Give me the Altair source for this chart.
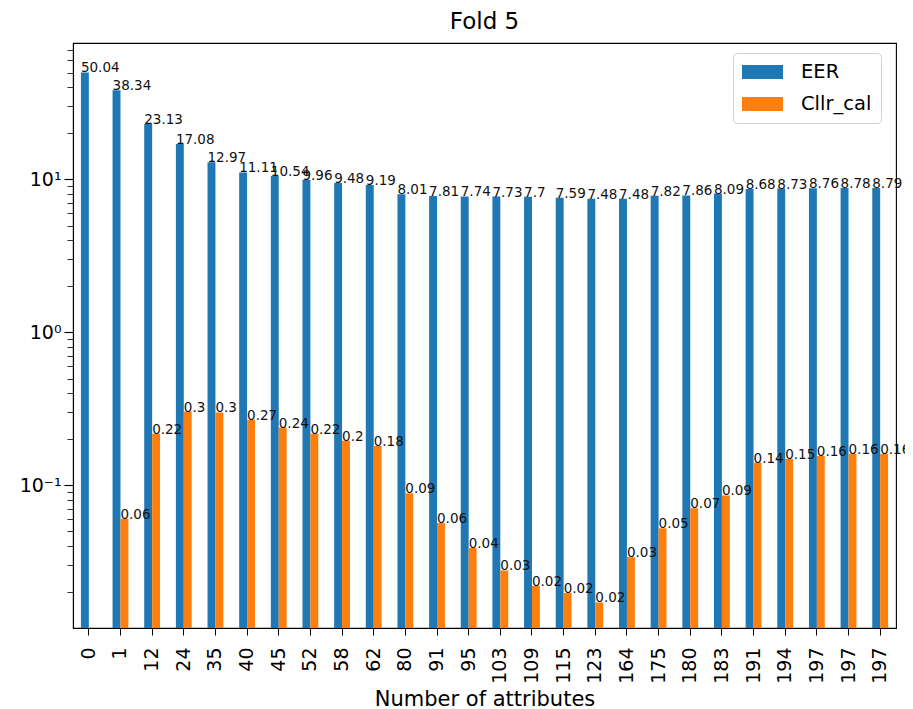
import json
import altair as alt
import pandas as pd

# ---- data ----
ATTRS = ["0", "1", "12", "24", "35", "40", "45", "52", "58", "62", "80", "91", "95",
         "103", "109", "115", "123", "164", "175", "180", "183", "191", "194", "197", "197", "197"]
EER = [50.04, 38.34, 23.13, 17.08, 12.97, 11.11, 10.54, 9.96, 9.48, 9.19, 8.01, 7.81, 7.74,
       7.73, 7.7, 7.59, 7.48, 7.48, 7.82, 7.86, 8.09, 8.68, 8.73, 8.76, 8.78, 8.79]
CLLR = [None, 0.0605, 0.218, 0.304, 0.300, 0.269, 0.239, 0.218, 0.196, 0.181, 0.089, 0.0568, 0.039,
        0.0278, 0.0221, 0.0198, 0.0172, 0.034, 0.0526, 0.071, 0.086, 0.141, 0.149, 0.156, 0.161, 0.161]
SERIES = ["EER", "Cllr_cal"]
COLORS = ["#1f77b4", "#ff7f0e"]
Y_DOMAIN = [0.0117, 78.0]
MAJOR_TICKS = [0.1, 1, 10]
MINOR_TICKS = [0.02, 0.03, 0.04, 0.05, 0.06, 0.07, 0.08, 0.09,
               0.2, 0.3, 0.4, 0.5, 0.6, 0.7, 0.8, 0.9,
               2, 3, 4, 5, 6, 7, 8, 9, 20, 30, 40, 50, 60, 70]

rows = []
for i, (a, e, c) in enumerate(zip(ATTRS, EER, CLLR)):
    rows.append({"idx": i, "series": "EER", "value": e, "label": f"{round(e, 2):g}"})
    if c is not None:
        rows.append({"idx": i, "series": "Cllr_cal", "value": c, "label": f"{round(c, 2):g}"})
df = pd.DataFrame(rows)

FONT = "DejaVu Sans"
x_label_expr = f"{json.dumps(ATTRS)}[datum.value]"
y_label_expr = ("datum.value == 10 ? '10\u00b9' : datum.value == 1 ? '10\u2070' : "
                "datum.value == 0.1 ? '10\u207b\u00b9' : ''")
major_test = "datum.value == 0.1 || datum.value == 1 || datum.value == 10"

x_enc = alt.X(
    "idx:O",
    scale=alt.Scale(paddingInner=0.5, paddingOuter=0.25),
    axis=alt.Axis(
        title="Number of attributes", labelExpr=x_label_expr, labelAngle=270,
        labelFontSize=19, labelPadding=12, tickSize=7, titleFontSize=21,
        titlePadding=5, labelOverlap=False, labelBound=False,
    ),
)
y_scale = alt.Scale(type="log", domain=Y_DOMAIN, nice=False)
y_enc = alt.Y(
    "value:Q", scale=y_scale,
    axis=alt.Axis(
        title=None, values=MAJOR_TICKS + MINOR_TICKS, labelExpr=y_label_expr,
        labelFontSize=19, labelPadding=3, grid=False,
        tickSize={"condition": {"test": major_test, "value": 9}, "value": 6},
        tickWidth={"condition": {"test": major_test, "value": 1.1}, "value": 0.8},
    ),
)

color_enc = alt.Color(
    "series:N",
    scale=alt.Scale(domain=SERIES, range=COLORS),
    legend=alt.Legend(
        title=None, orient="none", legendX=660, legendY=10,
        symbolType="M-2.05,-0.7H2.05V0.7H-2.05Z", symbolSize=400, symbolStrokeWidth=0,
        symbolOffset=10.5, symbolOpacity=1, labelFontSize=19.5, labelOffset=28.5,
        labelColor="black", padding=9, rowPadding=12, strokeColor="#d0d0d0",
        cornerRadius=4, fillColor="white",
    ),
)

bars = alt.Chart(df).mark_bar(opacity=1).encode(
    x=x_enc,
    xOffset=alt.XOffset("series:N", sort=SERIES, scale=alt.Scale(domain=SERIES, paddingInner=0)),
    y=y_enc,
    y2=alt.datum(Y_DOMAIN[0]),
    color=color_enc,
)

text_eer = alt.Chart(df).transform_filter("datum.series == 'EER'").mark_text(
    align="left", baseline="alphabetic", fontSize=13.5, font=FONT, color="#111111"
).encode(
    x=alt.X("idx:O", bandPosition=0),
    y=alt.Y("value:Q", scale=y_scale),
    text="label:N",
)
text_cllr = alt.Chart(df).transform_filter("datum.series == 'Cllr_cal'").mark_text(
    align="left", baseline="alphabetic", fontSize=13.5, font=FONT, color="#111111"
).encode(
    x=alt.X("idx:O", bandPosition=0.5),
    y=alt.Y("value:Q", scale=y_scale),
    text="label:N",
)

chart = alt.layer(bars, text_eer, text_cllr).properties(
    width=823, height=585,
    title=alt.TitleParams("Fold 5", fontSize=23, font=FONT, fontWeight="normal",
                          offset=9, anchor="middle", color="black"),
    autosize=alt.AutoSizeParams(type="none"),
    padding={"left": 65, "top": 35, "right": 9, "bottom": 81},
).configure(font=FONT).configure_view(
    stroke="black", strokeWidth=1.1
).configure_axis(
    domainColor="black", domainWidth=1.1, tickColor="black", labelColor="black",
    titleColor="black", labelFont=FONT, titleFont=FONT, titleFontWeight="normal",
)

chart.save("out.html", embed_options={"renderer": "svg", "actions": False})
